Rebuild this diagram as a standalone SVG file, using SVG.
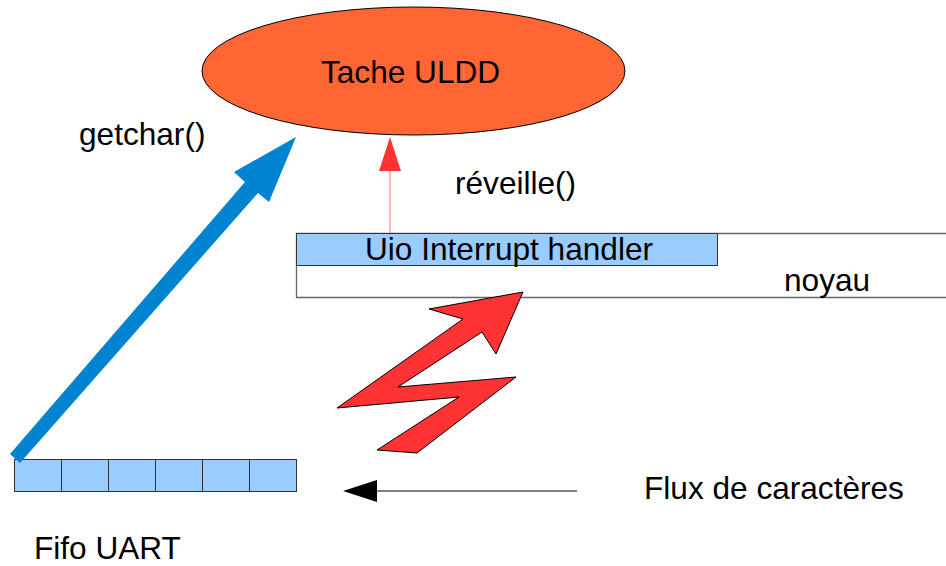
<svg xmlns="http://www.w3.org/2000/svg" width="946" height="566" viewBox="0 0 946 566">
  <style>
    text { font-family: "Liberation Sans", Arial, sans-serif; font-size: 31.6px; fill: #000; }
    .blue { fill: #99ccff; stroke: #333; stroke-width: 1; }
    .frame { fill: #fff; stroke: #666; stroke-width: 1.3; }
  </style>
  <rect width="946" height="566" fill="#fff"/>

  <!-- user task -->
  <g id="tache">
    <ellipse cx="413.5" cy="71" rx="211.5" ry="64" fill="#ff6633" stroke="#000" stroke-width="1"/>
    <text x="321" y="83">Tache ULDD</text>
  </g>

  <!-- kernel band with the interrupt handler -->
  <g id="noyau">
    <path class="frame" d="M950,233.5 H296.5 V297.5 H950"/>
    <text x="784" y="291">noyau</text>
  </g>
  <g id="handler">
    <rect class="blue" x="296.5" y="233.5" width="421" height="32"/>
    <text x="365" y="260">Uio Interrupt handler</text>
  </g>

  <!-- UART fifo -->
  <g id="fifo">
    <rect class="blue" x="14.5" y="459.5" width="47" height="32"/>
    <rect class="blue" x="61.5" y="459.5" width="47" height="32"/>
    <rect class="blue" x="108.5" y="459.5" width="47" height="32"/>
    <rect class="blue" x="155.5" y="459.5" width="47" height="32"/>
    <rect class="blue" x="202.5" y="459.5" width="47" height="32"/>
    <rect class="blue" x="249.5" y="459.5" width="47" height="32"/>
    <text x="34" y="559">Fifo UART</text>
  </g>

  <!-- connectors -->
  <g id="connectors">
    <!-- getchar(): fifo to task -->
    <polygon points="10,454 245,182 234,172 296,137 269,202 258,193 20,463" fill="#0084d1"/>
    <!-- wake-up: handler to task -->
    <line x1="390" y1="233" x2="390" y2="170" stroke="#ff7777" stroke-width="1"/>
    <polygon points="390,137 401,171 379,171" fill="#ff3333"/>
    <!-- interrupt bolt -->
    <polygon points="523,292 496,354 482,332 398,387 516,377 417,453 377,450 459,397 337,408 463,319 429,309" fill="#ff3333" stroke="#000" stroke-width="1" stroke-linejoin="miter"/>
    <!-- character stream -->
    <line x1="577" y1="491" x2="377" y2="491" stroke="#000" stroke-width="1.2"/>
    <polygon points="343,491 377,480 377,502" fill="#000"/>
  </g>

  <!-- labels -->
  <g id="labels">
    <text x="79" y="145">getchar()</text>
    <text x="455" y="194">réveille()</text>
    <text x="644" y="499">Flux de caractères</text>
  </g>
</svg>
